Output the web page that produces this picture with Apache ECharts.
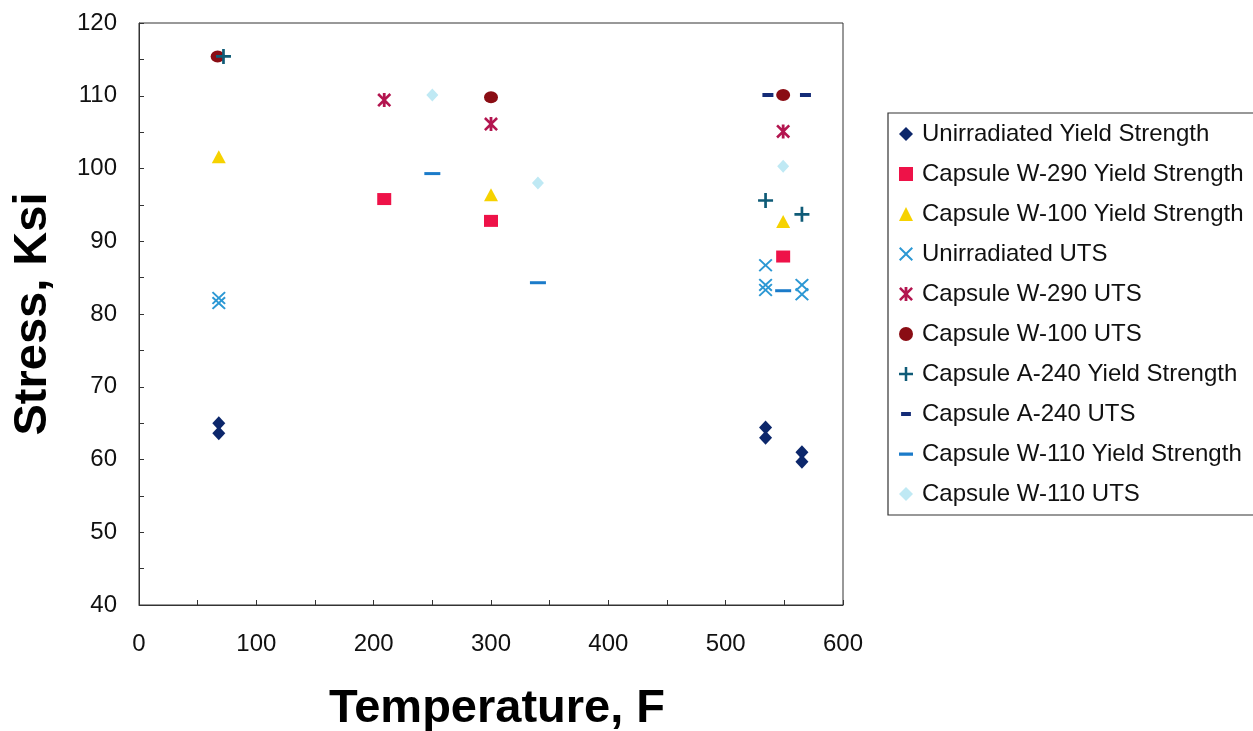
<!DOCTYPE html>
<html>
<head>
<meta charset="utf-8">
<script src="https://cdn.jsdelivr.net/npm/echarts@6/dist/echarts.min.js"></script>
<style>
  html, body { margin: 0; padding: 0; background: #fff; }
  #chart { width: 1253px; height: 731px; }
</style>
</head>
<body>
<div id="chart"></div>
<script>
// Tensile test results: stress (ksi) against test temperature (F)
const seriesNames = [
  'Unirradiated Yield Strength',
  'Capsule W-290 Yield Strength',
  'Capsule W-100 Yield Strength',
  'Unirradiated UTS',
  'Capsule W-290 UTS',
  'Capsule W-100 UTS',
  'Capsule A-240 Yield Strength',
  'Capsule A-240 UTS',
  'Capsule W-110 Yield Strength',
  'Capsule W-110 UTS'
];

// [temperature F, stress ksi]
const unirrYield = [[68, 65.0], [68, 63.6], [534, 64.4], [534, 63.0], [565, 61.0], [565, 59.7]];
const w290Yield  = [[209, 95.8], [300, 92.8], [549, 87.9]];
const w100Yield  = [[68, 101.6], [300, 96.4], [549, 92.7]];
const unirrUTS   = [[68, 82.2], [68, 81.5], [534, 86.7], [534, 84.0], [534, 83.3], [565, 84.0], [565, 82.7]];
const w290UTS    = [[209, 109.4], [300, 106.1], [549, 105.1]];
const w100UTS    = [[67, 115.4], [300, 109.8], [549, 110.1]];
const a240Yield  = [[72, 115.4], [534, 95.6], [565, 93.7]];
const a240UTS    = [[536, 110.1], [568, 110.1]];
const w110Yield  = [[250, 99.3], [340, 84.3], [549, 83.2]];
const w110UTS    = [[250, 110.1], [340, 98.0], [549, 100.3]];

const xTicks = { min: 0, max: 600, step: 100 };
const yTicks = { min: 40, max: 120, step: 10 };

// Marker outlines drawn in a 10 x 10 box
const crossPath = 'path://M1,0 L5,4 L9,0 L10,1 L6,5 L10,9 L9,10 L5,6 L1,10 L0,9 L4,5 L0,1 Z';
const starPath = 'path://M1.3,0 L5,3.7 L8.7,0 L10,1.3 L6.3,5 L10,8.7 L8.7,10 L5,6.3 L1.3,10 L0,8.7 L3.7,5 L0,1.3 Z M4,0 L6,0 L6,10 L4,10 Z';
const plusPath = 'path://M4.1,0 L5.9,0 L5.9,4.1 L10,4.1 L10,5.9 L5.9,5.9 L5.9,10 L4.1,10 L4.1,5.9 L0,5.9 L0,4.1 L4.1,4.1 Z';
const shortDashPath = 'path://M0,0 L0,0 Z M10,10 L10,10 Z M1.5,3.6 L8.5,3.6 L8.5,6.4 L1.5,6.4 Z';
const longDashPath = 'path://M0,0 L0,0 Z M10,10 L10,10 Z M0,4 L10,4 L10,6.2 L0,6.2 Z';

const styles = [
  { data: unirrYield, symbol: 'diamond', size: [13, 14], color: '#0c276b', icon: 'diamond' },
  { data: w290Yield,  symbol: 'rect', size: [14, 12], color: '#ee1248', icon: 'rect' },
  { data: w100Yield,  symbol: 'triangle', size: [14, 13], color: '#f6d200', icon: 'triangle' },
  { data: unirrUTS,   symbol: crossPath, size: [14, 13], color: '#2c98d4', icon: crossPath },
  { data: w290UTS,    symbol: starPath, size: [14, 14], color: '#b3154f', icon: starPath },
  { data: w100UTS,    symbol: 'circle', size: [14, 12], color: '#8a0d14', icon: 'circle' },
  { data: a240Yield,  symbol: plusPath, size: [15, 15], color: '#0f5b77', icon: plusPath },
  { data: a240UTS,    symbol: 'rect', size: [11, 4], color: '#142c77', icon: shortDashPath },
  { data: w110Yield,  symbol: 'rect', size: [16, 3], color: '#1b7bc9', icon: longDashPath },
  { data: w110UTS,    symbol: 'diamond', size: [12, 13], color: '#bfe9f4', icon: 'diamond' }
];

const FONT = '"Liberation Sans", Arial, Helvetica, sans-serif';

const chart = echarts.init(document.getElementById('chart'), null, { renderer: 'canvas' });

chart.setOption({
  backgroundColor: '#ffffff',
  animation: false,
  grid: {
    left: 139, top: 23, right: 410, bottom: 126,
    outerBoundsMode: 'none',
    containLabel: false,
    show: true, borderColor: '#333', borderWidth: 1, backgroundColor: 'transparent'
  },
  legend: {
    orient: 'vertical',
    left: 888, top: 113,
    padding: [9, 24, 9, 11],
    itemWidth: 14, itemHeight: 14,
    itemGap: 16,
    borderColor: '#333', borderWidth: 1.2,
    textStyle: { fontFamily: FONT, fontSize: 24, color: '#111', lineHeight: 24, padding: [0, 0, 0, 4] },
    data: seriesNames.map((n, i) => ({ name: n, icon: styles[i].icon }))
  },
  xAxis: {
    type: 'value',
    min: xTicks.min, max: xTicks.max, interval: xTicks.step,
    name: 'Temperature, F',
    nameLocation: 'middle',
    nameGap: 81,
    nameTextStyle: { fontFamily: FONT, fontSize: 47, fontWeight: 'bold', color: '#000', padding: [0, 0, 0, 12] },
    axisLine: { show: true, lineStyle: { color: '#333', width: 1 } },
    axisTick: { show: true, inside: true, length: 5, lineStyle: { color: '#333' } },
    minorTick: { show: true, splitNumber: 2, length: 5, lineStyle: { color: '#333' } },
    splitLine: { show: false },
    axisLabel: { fontFamily: FONT, fontSize: 24, color: '#111', margin: 27 }
  },
  yAxis: {
    type: 'value',
    min: yTicks.min, max: yTicks.max, interval: yTicks.step,
    name: 'Stress, Ksi',
    nameLocation: 'middle',
    nameGap: 82,
    nameRotate: 90,
    nameTextStyle: { fontFamily: FONT, fontSize: 47, fontWeight: 'bold', color: '#000' },
    axisLine: { show: true, lineStyle: { color: '#333', width: 1 } },
    axisTick: { show: true, inside: true, length: 5, lineStyle: { color: '#333' } },
    minorTick: { show: true, splitNumber: 2, length: 5, lineStyle: { color: '#333' } },
    splitLine: { show: false },
    axisLabel: { fontFamily: FONT, fontSize: 24, color: '#111', margin: 22 }
  },
  series: styles.map((s, i) => ({
    name: seriesNames[i],
    type: 'scatter',
    data: s.data,
    symbol: s.symbol,
    symbolSize: s.size,
    itemStyle: { color: s.color, opacity: 1 },
    emphasis: { disabled: true }
  }))
});
</script>
</body>
</html>
